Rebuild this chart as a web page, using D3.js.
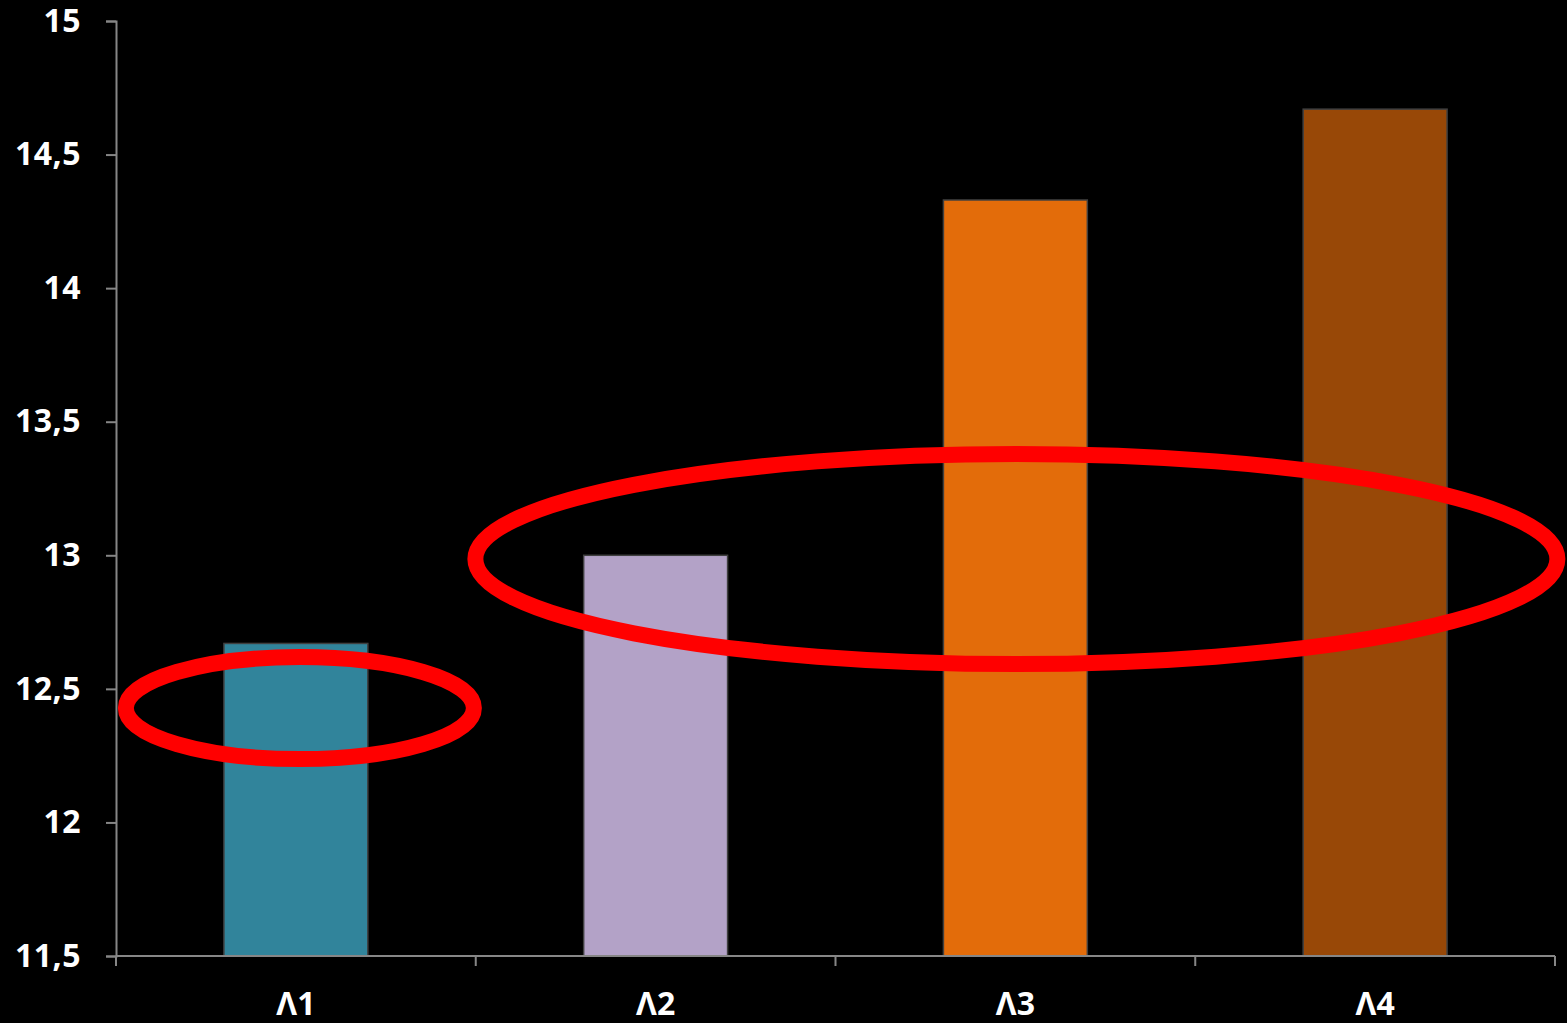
<!DOCTYPE html>
<html><head><meta charset="utf-8">
<script src="https://cdn.jsdelivr.net/npm/d3@7"></script>
<style>
html,body{margin:0;padding:0;background:#000;}
svg{display:block;}
text{font-family:"Open Sans",Calibri,sans-serif;font-weight:700;fill:#fff;}
</style></head>
<body>
<svg id="c" width="1567" height="1023"></svg>
<script>
const categories = ["Λ1", "Λ2", "Λ3", "Λ4"];
const values = [12.67, 13.0, 14.33, 14.67];
const colors = ["#31849B", "#B3A2C7", "#E36C0A", "#984807"];
const yTicks = [11.5, 12, 12.5, 13, 13.5, 14, 14.5, 15];
// annotation ellipses: centered on a category / value
const ellipses = [
  {cat: "Λ1", value: 12.428, rx: 174, ry: 51, dx: 4},
  {cat: "Λ3", value: 12.986, rx: 541, ry: 105, dx: 1}
];

const svg = d3.select("#c");
const m = {left: 116, right: 12, top: 21, bottom: 67};
const W = 1567, H = 1023;
const x = d3.scaleBand().domain(categories).range([m.left, W - m.right]).paddingInner(0.6).paddingOuter(0.3);
const y = d3.scaleLinear().domain([11.5, 15]).range([H - m.bottom, m.top]);
const axisColor = "#868686";
const fmt = d => String(d).replace(".", ",");

// bars
svg.append("g").selectAll("rect").data(categories).join("rect")
  .attr("x", d => x(d)).attr("width", x.bandwidth())
  .attr("y", (d, i) => y(values[i])).attr("height", (d, i) => y(11.5) - y(values[i]))
  .attr("fill", (d, i) => colors[i]).attr("stroke", "#404040").attr("stroke-width", 1.5);

// y axis
const ya = svg.append("g").attr("transform", `translate(${m.left},0)`)
  .call(d3.axisLeft(y).tickValues(yTicks).tickFormat(fmt).tickSize(10).tickPadding(25));
ya.select(".domain").attr("stroke", axisColor).attr("stroke-width", 2);
ya.selectAll(".tick line").attr("stroke", axisColor).attr("stroke-width", 2);
ya.selectAll(".tick text").attr("font-size", 32).attr("fill", "#fff")
  .attr("font-family", "'Open Sans',sans-serif").attr("font-weight", 700)
  .attr("letter-spacing", 0.5);

// x axis
const xa = svg.append("g").attr("transform", `translate(0,${y(11.5)})`);
xa.append("line").attr("x1", m.left).attr("x2", W - m.right).attr("stroke", axisColor).attr("stroke-width", 2);
const step = x.step();
const bounds = d3.range(categories.length + 1).map(i => m.left + i * step);
xa.selectAll("line.tk").data(bounds).join("line").attr("class", "tk")
  .attr("x1", d => d).attr("x2", d => d).attr("y1", 0).attr("y2", 10)
  .attr("stroke", axisColor).attr("stroke-width", 2);
xa.selectAll("text").data(categories).join("text")
  .attr("x", d => x(d) + x.bandwidth() / 2).attr("y", 59)
  .attr("text-anchor", "middle").attr("font-size", 32).text(d => d);

// annotation ellipses
svg.append("g").selectAll("ellipse").data(ellipses).join("ellipse")
  .attr("cx", d => x(d.cat) + x.bandwidth() / 2 + d.dx)
  .attr("cy", d => y(d.value))
  .attr("rx", d => d.rx).attr("ry", d => d.ry)
  .attr("fill", "none").attr("stroke", "#FF0000").attr("stroke-width", 16);
</script>
</body></html>
